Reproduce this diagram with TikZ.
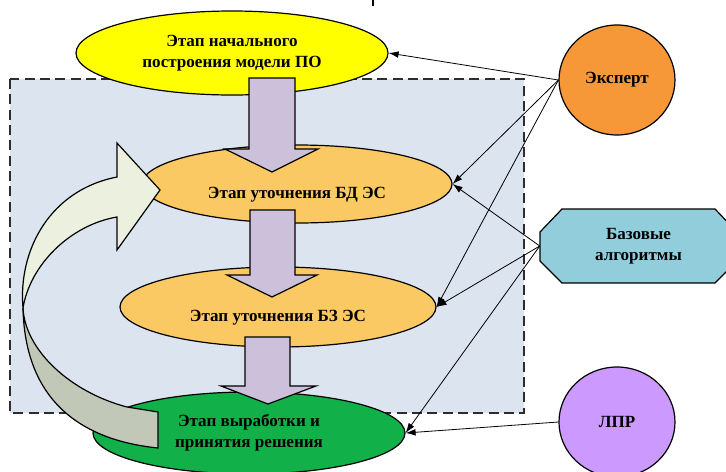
\documentclass[tikz,border=0pt]{standalone}
\usepackage{fontspec}
\setmainfont{Liberation Serif}
\usetikzlibrary{shapes.geometric,arrows.meta}

\definecolor{bgblue}{RGB}{220,228,240}
\definecolor{dashgray}{RGB}{45,45,45}
\definecolor{stageyellow}{RGB}{255,255,0}
\definecolor{stageorange}{RGB}{251,201,100}
\definecolor{stagegreen}{RGB}{18,176,72}
\definecolor{expertorange}{RGB}{247,152,56}
\definecolor{algoblue}{RGB}{146,205,220}
\definecolor{lprviolet}{RGB}{204,153,255}
\definecolor{arrowlilac}{RGB}{204,192,218}
\definecolor{loopfront}{RGB}{235,241,222}
\definecolor{loopback}{RGB}{194,200,184}

\begin{document}
\begin{tikzpicture}[x=0.75pt,y=0.75pt,yscale=-1,xscale=1,
  stage/.style={ellipse, draw, line width=0.9pt, inner sep=0pt, font=\bfseries\fontsize{12.8}{15.5}\selectfont},
  actor/.style={ellipse, draw, line width=0.9pt, inner sep=0pt, minimum width=87pt, minimum height=82.5pt, font=\bfseries\fontsize{12.8}{15.5}\selectfont},
  lowtext/.style={text height=22pt, text depth=0pt},
  blockarrow/.style={draw, line width=0.9pt, fill=arrowlilac, line join=miter},
  link/.style={-{Latex[length=7.5pt,width=5pt]}, line width=0.6pt}]
\useasboundingbox (0,0) rectangle (726,472);
% stray mark at the top edge
\draw [line width=1.2pt] (373,0) -- (373,6) ;
% frame
\draw [dash pattern=on 7.5pt off 4pt, line width=1.1pt, draw=dashgray, fill=bgblue] (10,79) rectangle (524,413) ;
% stages
\node [stage, fill=stageyellow, minimum width=234pt, minimum height=63pt, align=center] (start) at (232,53) {Этап начального\\построения модели ПО};
\node [stage, fill=stageorange, minimum width=232.5pt, minimum height=58.5pt, lowtext] (refinedb) at (297,184) {Этап уточнения БД ЭС};
\node [stage, fill=stageorange, minimum width=237pt, minimum height=60pt, lowtext] (refinekb) at (278,307) {Этап уточнения БЗ ЭС};
\node [stage, fill=stagegreen, minimum width=234pt, minimum height=61.5pt, align=center] (decide) at (249,433) {Этап выработки и\\принятия решения};
% block arrows
\draw [blockarrow] (249,78) -- (295,78) -- (295,149) -- (318,149) -- (272,172) -- (225,149) -- (249,149) -- cycle ;
\draw [blockarrow] (250,210) -- (295,210) -- (295,275) -- (317,275) -- (272,297) -- (227,275) -- (250,275) -- cycle ;
\draw [blockarrow] (245,337) -- (290,337) -- (290,386) -- (316,386) -- (268,404) -- (221,386) -- (245,386) -- cycle ;
% curved feedback arrow
\draw [line width=0.9pt, fill=loopback, line join=miter] (23,308) .. controls (25,400) and (80,440) .. (158,448) -- (158,412) -- (127,407) .. controls (70,392) and (25,350) .. (23,308) -- cycle ;
\draw [line width=0.9pt, fill=loopfront, line join=miter] (23,308) .. controls (18,250) and (50,190) .. (117,177) -- (117,143) -- (160,190) -- (117,250) -- (117,217) .. controls (70,225) and (30,265) .. (23,308) -- cycle ;
% actors
\node [actor, fill=expertorange] (expert) at (617,80) {Эксперт};
\node [actor, fill=lprviolet] (lpr) at (617,422) {ЛПР};
\draw [line width=0.9pt, fill=algoblue, line join=miter] (540,232) -- (562,209) -- (715,209) -- (737,232) -- (737,261) -- (715,283) -- (562,283) -- (540,261) -- cycle ;
\node [minimum width=147.75pt, minimum height=55.5pt, inner sep=0pt, align=center, font=\bfseries\fontsize{12.8}{16}\selectfont] (algo) at (638.5,246) {Базовые\\алгоритмы};
% links
\draw [link] (expert.west) -- (start.east) ;
\draw [link] (expert.west) -- (refinedb.east) ;
\draw [link] (expert.west) -- (refinekb.east) ;
\draw [link] (algo.west) -- (refinedb.east) ;
\draw [link] (algo.west) -- (refinekb.east) ;
\draw [link] (algo.west) -- (decide.east) ;
\draw [link] (lpr.west) -- (decide.east) ;
\end{tikzpicture}
\end{document}
